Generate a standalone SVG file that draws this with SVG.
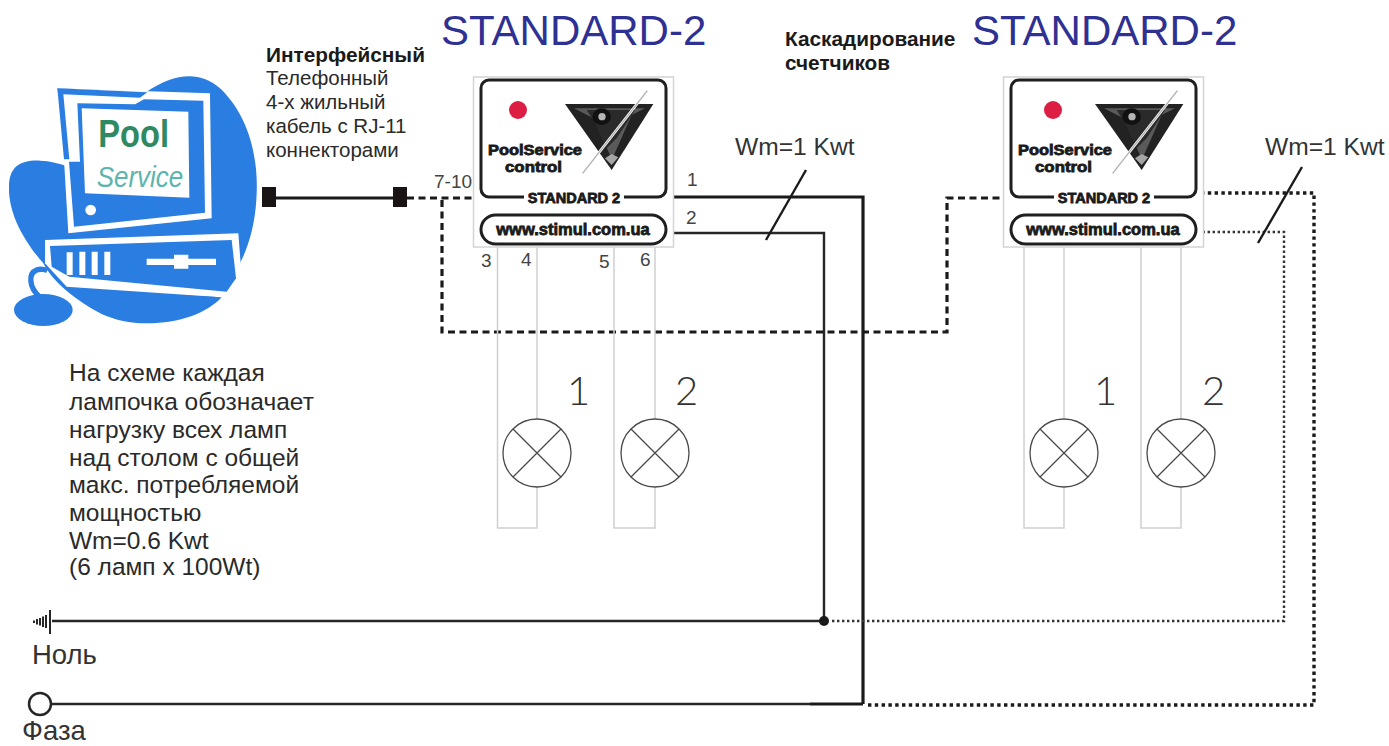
<svg xmlns="http://www.w3.org/2000/svg" xmlns:xlink="http://www.w3.org/1999/xlink" width="1389" height="746" viewBox="0 0 1389 746">
<style>
text{font-family:"Liberation Sans",Arial,sans-serif;fill:#333}
.title{font-size:42px;fill:#2e3192}
.body{font-size:20.500px;fill:#2a2a2a}
.bold{font-size:20.800px;font-weight:bold;fill:#1a1a1a}
.casc{font-size:20.800px;font-weight:bold;fill:#1a1a1a}
.note{font-size:24.500px;fill:#2a2a2a}
.pin{font-size:19px;fill:#444}
.w{font-size:24.600px;fill:#333}
.n{font-family:Lato,"Liberation Sans",sans-serif;font-weight:300;font-size:40px;fill:#333}
.rail{font-size:27.500px;fill:#333}
.blk{font-family:"Liberation Sans",Arial,sans-serif;font-weight:bold;fill:#1a1a1a;stroke:#1a1a1a;stroke-width:.8px}
.frame{fill:#fff;stroke:#d4d4d4;stroke-width:1.5}
.inner{fill:#fff;stroke:#1f1f1f;stroke-width:3}
.wire{fill:none;stroke:#cfcfcf;stroke-width:1.5}
.lamp{fill:#fff;stroke:#4a4a4a;stroke-width:1.3}
.thick{fill:none;stroke:#1a1a1a;stroke-width:3.2}
.thin{fill:none;stroke:#262626;stroke-width:2.4}
.dash{fill:none;stroke:#1a1a1a;stroke-width:3.2;stroke-dasharray:7 4.5}
.dotB{fill:none;stroke:#1a1a1a;stroke-width:3.4;stroke-dasharray:3.4 3.4}
.dotS{fill:none;stroke:#333;stroke-width:2.4;stroke-dasharray:2.4 2.6}
.slash{fill:none;stroke:#1a1a1a;stroke-width:2.4}
.b{fill:#2a7de1}
.wh{fill:#fff}
</style>
<defs>
<g id="logo" transform="translate(430,60) scale(.33333)">
<path d="M405 132H670L545 330Z" fill="#222"/>
<path d="M432 145H645L605 165L552 285L540 285L490 175Z" fill="#5a5a5a"/>
<path d="M470 150H615L560 235L530 265L495 190Z" fill="#2a2a2a"/>
<ellipse cx="515" cy="170" rx="28" ry="25" fill="#111"/>
<circle cx="516" cy="170" r="11" fill="#b5b5b5"/>
<path d="M525 295L545 315L565 292L545 282Z" fill="#a5a5a5"/>
<path d="M458 340L652 92" stroke="#fff" stroke-width="8" fill="none"/>
<path d="M458 340L652 92" stroke="#b0b0b0" stroke-width="4" fill="none"/>
</g>
</defs>

<g id="computer" transform="translate(0,60) scale(.33333)">
<path class="b" d="M440 95C520 40 600 30 660 85C740 160 775 280 770 400C765 560 700 690 580 760C480 805 340 790 250 730C190 690 150 650 130 610C70 540 25 460 27 380C28 320 60 300 120 302C150 303 180 310 205 320L172 85Z"/>
<path class="wh" d="M172 85L630 100L635 475L205 520L192 300Z"/>
<path class="b" d="M172 85L442 97L420 113L190 103L208 298L192 298Z"/>
<path class="b" d="M232 130L405 133L432 118L610 122L615 458L222 500L207 305L240 305Z"/>
<path class="wh" d="M245 145L565 155L568 413L255 400Z"/>
<ellipse class="wh" cx="272" cy="450" rx="16" ry="16"/>
<path class="wh" d="M135 540L715 520L725 650L690 700L665 712L200 680L135 610Z"/>
<path class="b" d="M150 558L695 540L708 655L680 695L208 650L155 620Z"/>
<path class="wh" d="M200 577H218V645H200ZM238 575H256V645H238ZM275 575H293V645H275ZM313 575H331V645H313ZM440 596H522V584H565V596H648V615H565V626H522V615H440Z"/>
<path class="b" d="M212 690L665 712C620 760 540 790 440 790C340 790 260 750 212 690Z"/>
<ellipse class="b" cx="130" cy="750" rx="88" ry="48"/>
<path d="M120 712C85 680 85 640 110 630C120 626 135 628 142 632" fill="none" stroke="#2a7de1" stroke-width="16"/>
<text x="295" y="262" style="font-size:118px;font-weight:bold;fill:#2f8a63" textLength="212" lengthAdjust="spacingAndGlyphs">Pool</text>
<text x="290" y="380" style="font-size:88px;font-style:italic;fill:#5bb5ae" textLength="260" lengthAdjust="spacingAndGlyphs">Service</text>
</g>

<g id="interface-label">
<text class="bold" x="266" y="62">Интерфейсный</text>
<text class="body" x="266" y="85">Телефонный</text>
<text class="body" x="266" y="109">4-х жильный</text>
<text class="body" x="266" y="133">кабель с RJ-11</text>
<text class="body" x="266" y="157">коннекторами</text>
</g>
<g id="cascade-label">
<text class="casc" x="785" y="46">Каскадирование</text>
<text class="casc" x="785" y="70">счетчиков</text>
</g>
<text class="title" x="441" y="45">STANDARD-2</text>
<text class="title" x="972" y="45">STANDARD-2</text>

<g id="note">
<text class="note" x="69" y="381">На схеме каждая</text>
<text class="note" x="69" y="410">лампочка обозначает</text>
<text class="note" x="69" y="438">нагрузку всех ламп</text>
<text class="note" x="69" y="466">над столом с общей</text>
<text class="note" x="69" y="493">макс. потребляемой</text>
<text class="note" x="69" y="521">мощностью</text>
<text class="note" x="69" y="549">Wm=0.6 Kwt</text>
<text class="note" x="69" y="575">(6 ламп х 100Wt)</text>
</g>

<g id="connectors">
<path class="thick" d="M275 198H393"/>
<path class="dash" d="M407 198H473"/>
<path class="dash" d="M442 200V332H947V198H1003"/>
<path class="thick" d="M673 197H863V704"/>
<path class="thin" d="M673 233H824V621"/>
<path class="thin" d="M52 621H824"/>
<path class="thin" d="M51 704H810"/>
<path class="thick" d="M810 704H863"/>
<path class="dotS" d="M832 621H1284V232H1203"/>
<path class="dotB" d="M868 705H1314V193H1203"/>
<path class="slash" d="M766 240L806 170"/>
<path class="slash" d="M1258 243L1302 167"/>
<circle cx="824" cy="621" r="5" fill="#1a1a1a"/>
</g>

<g id="connectors-rj11">
<rect x="262" y="187" width="14" height="20" fill="#1a1414"/>
<rect x="393" y="187" width="14" height="20" fill="#1a1414"/>
</g>

<g id="meter-1">
<path class="wire" d="M497.500 247V528H537V247M614 247V528H655V247"/>
<rect class="frame" x="473.500" y="77" width="200" height="170"/>
<rect class="inner" x="481" y="80" width="185" height="117" rx="8"/>
<rect x="524" y="188" width="100" height="18" fill="#fff"/>
<rect class="inner" x="481" y="215" width="185" height="29" rx="14.500"/>
<circle cx="518" cy="110" r="9" fill="#dc1e42"/>
<use href="#logo" xlink:href="#logo"/>
<text class="blk" x="488" y="155" style="font-size:14.500px" textLength="94" lengthAdjust="spacingAndGlyphs">PoolService</text>
<text class="blk" x="505" y="172" style="font-size:14.500px" textLength="57" lengthAdjust="spacingAndGlyphs">control</text>
<text class="blk" x="574" y="203" text-anchor="middle" style="font-size:14.500px">STANDARD 2</text>
<text class="blk" x="573" y="235" text-anchor="middle" style="font-size:16.500px">www.stimul.com.ua</text>
</g>
<g id="meter-2">
<path class="wire" d="M1024 247V528H1064V247M1141 247V528H1181V247"/>
<rect class="frame" x="1003.500" y="77" width="200" height="170"/>
<rect class="inner" x="1011" y="80" width="185" height="117" rx="8"/>
<rect x="1054" y="188" width="100" height="18" fill="#fff"/>
<rect class="inner" x="1011" y="215" width="185" height="29" rx="14.500"/>
<circle cx="1053" cy="110" r="9" fill="#dc1e42"/>
<use href="#logo" xlink:href="#logo" x="530"/>
<text class="blk" x="1018" y="155" style="font-size:14.500px" textLength="94" lengthAdjust="spacingAndGlyphs">PoolService</text>
<text class="blk" x="1035" y="172" style="font-size:14.500px" textLength="57" lengthAdjust="spacingAndGlyphs">control</text>
<text class="blk" x="1104" y="203" text-anchor="middle" style="font-size:14.500px">STANDARD 2</text>
<text class="blk" x="1103" y="235" text-anchor="middle" style="font-size:16.500px">www.stimul.com.ua</text>
</g>

<g id="pin-labels">
<text class="pin" x="434" y="188">7-10</text>
<text class="pin" x="687" y="186">1</text>
<text class="pin" x="686" y="224">2</text>
<text class="pin" x="481" y="267">3</text>
<text class="pin" x="521" y="266">4</text>
<text class="pin" x="599" y="268">5</text>
<text class="pin" x="640" y="266">6</text>
<text class="w" x="735" y="155">Wm=1 Kwt</text>
<text class="w" x="1265" y="155">Wm=1 Kwt</text>
</g>

<g id="lamp-1"><circle class="lamp" cx="537" cy="453" r="34"/><path class="lamp" d="M513 429L561 477M561 429L513 477"/><text class="n" x="567" y="405">1</text></g>
<g id="lamp-2"><circle class="lamp" cx="655" cy="453" r="34"/><path class="lamp" d="M631 429L679 477M679 429L631 477"/><text class="n" x="675" y="405">2</text></g>
<g id="lamp-3"><circle class="lamp" cx="1064" cy="453" r="34"/><path class="lamp" d="M1040 429L1088 477M1088 429L1040 477"/><text class="n" x="1094" y="405">1</text></g>
<g id="lamp-4"><circle class="lamp" cx="1181" cy="453" r="34"/><path class="lamp" d="M1157 429L1205 477M1205 429L1157 477"/><text class="n" x="1202" y="405">2</text></g>

<g id="neutral">
<path d="M34 620.500V623M37 619V624.500M40 618V625.500M43 616.500V627M46 615V628M50 610V634" fill="none" stroke="#262626" stroke-width="2"/>
<text class="rail" x="32" y="664">Ноль</text>
</g>
<g id="phase">
<circle cx="40" cy="704" r="11" fill="#fff" stroke="#262626" stroke-width="2.500"/>
<text class="rail" x="22" y="740">Фаза</text>
</g>
</svg>
